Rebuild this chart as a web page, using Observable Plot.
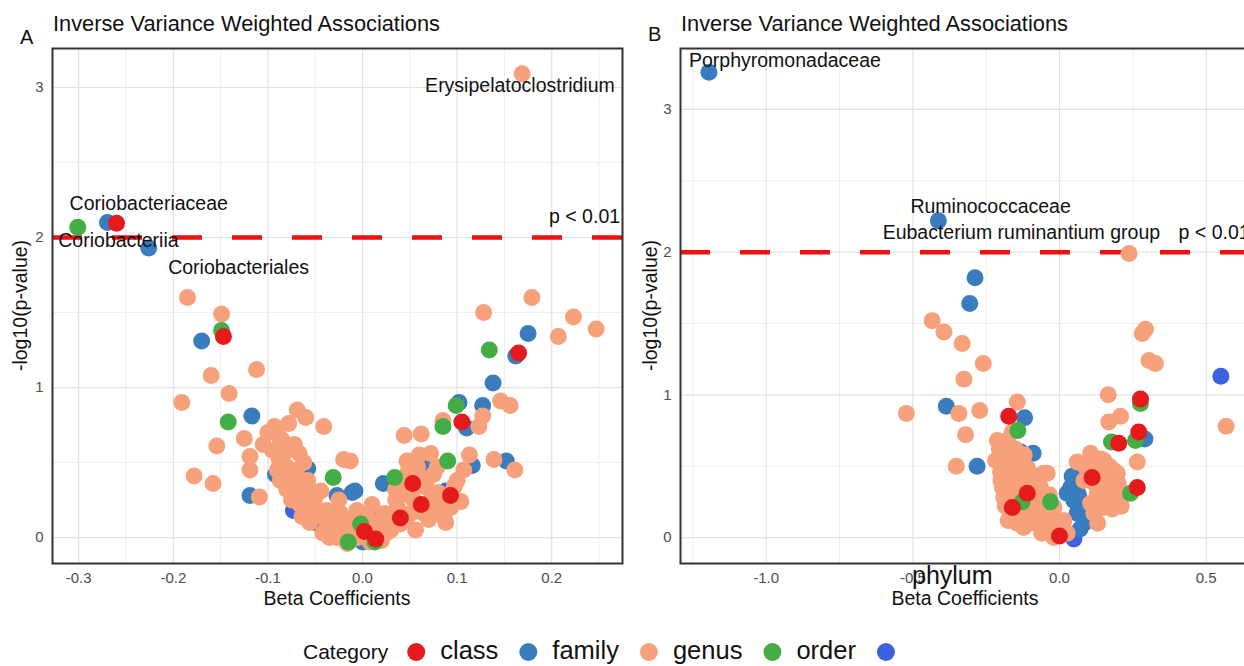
<!DOCTYPE html>
<html><head><meta charset="utf-8">
<script src="https://cdn.jsdelivr.net/npm/d3@7"></script>
<script src="https://cdn.jsdelivr.net/npm/@observablehq/plot@0.6"></script>
<style>
html,body{margin:0;padding:0;background:#fff;overflow:hidden;}
#root{position:relative;width:1244px;height:666px;overflow:hidden;background:#fff;font-family:'Liberation Sans',Arial,sans-serif;}
#root svg{position:absolute;max-width:none;}
</style></head><body><div id="root"></div>
<script>
// ---- categories & legend ----
const categories = ["class","family","genus","order","phylum"];
const palette = ["#e41a1c","#3a7dbf","#f7a07c","#45ad45","#3b62e0"];
const pThreshold = 0.01;
const panelTitle = "Inverse Variance Weighted Associations";
const panelLetters = ["A","B"];
const xTitle = "Beta Coefficients";
const yTitle = "-log10(p-value)";

// ---- panel A data: [beta, -log10 p] ----
const aClass = [[-0.260,2.095],[-0.147,1.34],[0.165,1.23],[0.105,0.77],[0.053,0.36],[0.093,0.28],[0.014,-0.01],[0.040,0.13],[0.062,0.22],[0.002,0.04]];
const aFamily = [[-0.2696,2.10],[-0.226,1.93],[-0.170,1.31],[-0.117,0.81],[-0.119,0.28],[-0.092,0.42],[-0.058,0.46],[-0.041,0.06],[-0.029,0.16],[-0.011,0.30],[-0.027,0.28],[0.000,-0.03],[0.011,0.16],[0.022,0.36],[-0.008,0.31],[0.067,0.51],[0.110,0.73],[0.102,0.90],[0.127,0.88],[0.138,1.03],[0.175,1.36],[0.162,1.21],[0.116,0.48],[0.152,0.51],[-0.050,0.10],[0.030,0.08]];
const aGenus = [[0.1687,3.091],
 [-0.185,1.60],[-0.149,1.49],[-0.160,1.08],[-0.112,1.12],[-0.141,0.96],[-0.191,0.90],
 [-0.069,0.85],[-0.060,0.80],[-0.093,0.74],[-0.078,0.76],[-0.041,0.74],[-0.125,0.66],[-0.154,0.61],[-0.105,0.62],[-0.088,0.67],[-0.119,0.54],[-0.119,0.45],[-0.067,0.56],[-0.020,0.52],[-0.178,0.41],[-0.158,0.36],[-0.109,0.27],
 [-0.085,0.65],[-0.083,0.56],[-0.080,0.47],[-0.074,0.38],[-0.071,0.29],[-0.066,0.22],[-0.058,0.18],[-0.051,0.25],[-0.044,0.31],[-0.048,0.16],[-0.037,0.11],[-0.030,0.07],[-0.023,0.16],[-0.016,0.11],[-0.009,0.02],[-0.002,0.07],[0.005,0.16],[-0.027,0.00],[-0.016,-0.04],
 [-0.088,0.52],[-0.078,0.42],[-0.068,0.34],[-0.060,0.28],[-0.052,0.20],[-0.045,0.14],[-0.038,0.18],[-0.030,0.12],[-0.022,0.06],[-0.012,0.04],[-0.006,0.15],[0.004,0.10],[-0.058,0.38],[-0.070,0.45],[-0.048,0.30],[-0.025,0.25],
 [-0.095,0.58],[-0.090,0.45],[-0.087,0.38],[-0.080,0.32],[-0.075,0.25],[-0.064,0.14],[-0.056,0.10],[-0.042,0.03],[-0.035,0.00],[-0.013,-0.02],[-0.005,0.00],[0.008,-0.03],[0.020,-0.02],[-0.100,0.70],[-0.072,0.62],[-0.062,0.50],
 [0.179,1.60],[0.128,1.50],[0.223,1.47],[0.247,1.39],[0.207,1.34],[0.146,0.91],[0.156,0.88],[0.127,0.81],[0.085,0.78],[0.123,0.74],[0.044,0.68],[0.062,0.69],[0.139,0.52],[0.161,0.45],[0.113,0.55],[0.047,0.51],
 [-0.006,0.18],[0.008,0.11],[0.023,0.16],[0.037,0.20],[0.044,0.29],[0.051,0.38],[0.058,0.47],[0.065,0.34],[0.072,0.25],[0.079,0.18],[0.086,0.14],[0.093,0.29],[0.100,0.38],[0.107,0.45],[0.051,0.16],[0.030,0.05],[0.016,0.00],[0.001,0.02],[0.040,0.09],[0.065,0.16],[0.079,0.47],[0.068,0.38],[0.054,0.25],[0.093,0.20],[-0.013,0.51],
 [0.010,0.22],[0.015,0.08],[0.028,0.14],[0.035,0.25],[0.045,0.12],[0.058,0.22],[0.062,0.40],[0.070,0.12],[0.080,0.30],[0.088,0.10],[0.042,0.37],[0.056,0.05],
 [0.025,0.03],[0.035,0.32],[0.048,0.44],[0.055,0.33],[0.075,0.42],[0.082,0.22],[0.097,0.34],[0.104,0.24],[0.060,0.55],[0.072,0.56]];
const aOrder = [[-0.301,2.069],[-0.149,1.38],[-0.142,0.77],[0.134,1.25],[0.099,0.88],[0.085,0.74],[0.090,0.51],[0.034,0.40],[-0.015,-0.03],[0.013,-0.03],[-0.002,0.09],[-0.031,0.40]];
const aPhylum = [[-0.065,0.32],[-0.073,0.18],[0.070,0.46],[0.088,0.31]];
const aLabels = ["Erysipelatoclostridium","Coriobacteriaceae","Coriobacteriia","Coriobacteriales","p < 0.01"];
const aLabelX = [0.1664,-0.226,-0.258,-0.131,0.2347];
const aLabelY = [3.013,2.222,1.98,1.80,2.14];
const aXTicks = [-0.3,-0.2,-0.1,0.0,0.1,0.2];
const aXMinor = [-0.25,-0.15,-0.05,0.05,0.15,0.25];
const aXDomain = [-0.3277,0.2748];
const aYDomain = [-0.173,3.26];

// ---- panel B data ----
const bClass = [[-0.173,0.85],[-0.161,0.21],[-0.110,0.31],[0.000,0.01],[0.111,0.42],[0.276,0.97],[0.270,0.74],[0.202,0.66],[0.265,0.35]];
const bFamily = [[-1.195,3.26],[-0.413,2.22],[-0.288,1.82],[-0.306,1.64],[-0.386,0.92],[-0.281,0.50],[-0.119,0.84],[-0.090,0.59],[0.043,0.43],[0.038,0.35],[0.049,0.26],[0.060,0.17],[0.083,0.10],[0.026,0.31],[0.072,0.21],[0.291,0.69],[0.050,0.38],[0.065,0.30],[0.090,0.22],[0.070,0.06]];
const bGenus = [[0.237,1.99],[-0.434,1.52],[-0.394,1.44],[-0.332,1.36],[-0.260,1.22],[-0.326,1.11],[-0.522,0.87],[-0.343,0.87],[-0.272,0.89],[-0.320,0.72],[-0.352,0.50],[-0.144,0.95],[0.293,1.46],[0.282,1.43],[0.305,1.24],[0.327,1.22],[0.568,0.78],[0.166,1.00],[0.208,0.85],[0.168,0.81],[0.265,0.53],
 [-0.212,0.68],[-0.218,0.54],[-0.201,0.46],[-0.184,0.38],[-0.190,0.28],[-0.167,0.17],[-0.144,0.10],[-0.133,0.40],[-0.110,0.49],[-0.088,0.42],[-0.065,0.35],[-0.042,0.45],[-0.076,0.21],[-0.099,0.17],[-0.054,0.12],[-0.031,0.05],[-0.122,0.07],[-0.093,0.28],[-0.156,0.54],[-0.178,0.68],[-0.161,0.74],
 [-0.205,0.62],[-0.190,0.52],[-0.175,0.45],[-0.160,0.35],[-0.125,0.32],[-0.105,0.35],[-0.080,0.30],[-0.070,0.14],[-0.045,0.18],[-0.035,0.30],[-0.020,0.00],[-0.110,0.10],[-0.130,0.18],[-0.185,0.22],[-0.175,0.12],[-0.150,0.62],[-0.120,0.58],[-0.150,0.45],
 [-0.200,0.40],[-0.195,0.35],[-0.170,0.30],[-0.140,0.22],[-0.115,0.28],[-0.085,0.10],[-0.060,0.03],[-0.100,0.45],[-0.070,0.40],[-0.050,0.30],[-0.025,0.12],[-0.160,0.60],
 [0.060,0.53],[0.106,0.59],[0.151,0.54],[0.185,0.47],[0.083,0.40],[0.129,0.31],[0.174,0.35],[0.208,0.31],[0.106,0.24],[0.151,0.21],[0.015,0.12],[-0.019,0.21],[-0.053,0.17],[-0.042,0.05],[0.026,0.03],[0.197,0.45],[0.162,0.26],[0.117,0.17],[-0.054,0.45],
 [0.130,0.45],[0.090,0.50],[0.140,0.55],[0.120,0.38],[0.005,0.06],[0.130,0.10],[0.180,0.20],[0.200,0.38],[0.150,0.40],
 [0.160,0.32],[0.190,0.40],[0.170,0.50],[0.120,0.50],[0.210,0.22],[0.140,0.22]];
const bOrder = [[-0.142,0.75],[-0.127,0.25],[-0.031,0.25],[0.177,0.67],[0.259,0.68],[0.242,0.31],[0.276,0.94]];
const bPhylum = [[0.550,1.13],[-0.133,0.60],[-0.140,0.31],[0.083,0.17],[0.049,-0.01]];
const bLabels = ["Porphyromonadaceae","Ruminococcaceae","Eubacterium ruminantium group","p < 0.01"];
const bLabelX = [-0.936,-0.235,-0.130,0.527];
const bLabelY = [3.343,2.319,2.137,2.137];
const bXTicks = [-1.0,-0.5,0.0,0.5];
const bXMinor = [-1.25,-0.75,-0.25,0.25];
const bXDomain = [-1.292,0.651];
const bYDomain = [-0.182,3.427];

const yTicks = [0,1,2,3];
const yMinor = [0.5,1.5,2.5];

// ---- build ----
const FONT = "'Liberation Sans', Arial, sans-serif";
const drawOrder = ["phylum","family","genus","order","class"];
function rowsOf(sets){ return drawOrder.flatMap(c => sets[c].map(([x,y]) => ({x, y, category: c}))); }
function labelRows(labels, xs, ys){ return labels.map((label,i) => ({label, x: xs[i], y: ys[i]})); }

function panel(rows, labels, xTicks, xMinor, xDomain, yDomain){
  return Plot.plot({
    width: 640, height: 580,
    marginLeft: 52, marginRight: 18, marginTop: 8, marginBottom: 57,
    x: {domain: xDomain}, y: {domain: yDomain},
    color: {domain: categories, range: palette},
    style: {fontFamily: FONT, fontSize: "15px", background: "none", overflow: "visible"},
    marks: [
      Plot.ruleX(xMinor, {stroke: "#efefef", strokeWidth: 1}),
      Plot.ruleY(yMinor, {stroke: "#efefef", strokeWidth: 1}),
      Plot.ruleX(xTicks, {stroke: "#e2e2e2", strokeWidth: 1.2}),
      Plot.ruleY(yTicks, {stroke: "#e2e2e2", strokeWidth: 1.2}),
      Plot.ruleY([-Math.log10(pThreshold)], {stroke: "#ee1111", strokeWidth: 4.5, strokeDasharray: "30,30"}),
      Plot.dot(rows, {x: "x", y: "y", fill: "category", r: 8.5}),
      Plot.text(labels, {x: "x", y: "y", text: "label", fontSize: 19.5, fill: "#111", textAnchor: "middle", lineAnchor: "middle"}),
      Plot.axisX({ticks: xTicks, tickSize: 0, tickPadding: 9, tickFormat: d => d.toFixed(1), label: null, fill: "#4d4d4d"}),
      Plot.axisY({ticks: yTicks, tickSize: 0, tickPadding: 9, tickFormat: d => String(d), label: null, fill: "#4d4d4d"}),
      Plot.frame({stroke: "#333", strokeWidth: 2})
    ]
  });
}

const root = document.getElementById("root");
const rowsA = rowsOf({class: aClass, family: aFamily, genus: aGenus, order: aOrder, phylum: aPhylum});
const rowsB = rowsOf({class: bClass, family: bFamily, genus: bGenus, order: bOrder, phylum: bPhylum});
const plotA = panel(rowsA, labelRows(aLabels, aLabelX, aLabelY), aXTicks, aXMinor, aXDomain, aYDomain);
const plotB = panel(rowsB, labelRows(bLabels, bLabelX, bLabelY), bXTicks, bXMinor, bXDomain, bYDomain);
plotA.style.left = "0px"; plotA.style.top = "40px";
plotB.style.left = "628px"; plotB.style.top = "40px";
root.appendChild(plotA); root.appendChild(plotB);

// ---- overlay: titles, axis titles, legend ----
const ov = d3.select(root).append("svg")
  .attr("width", 1244).attr("height", 666)
  .style("left", "0px").style("top", "0px")
  .style("pointer-events", "none")
  .attr("font-family", FONT);

function txt(x, y, s, size, anchor){
  return ov.append("text").attr("x", x).attr("y", y).attr("font-size", size)
    .attr("text-anchor", anchor || "start").attr("fill", "#111").text(s);
}
const panelOffsets = [0, 628];
const letterBase = [44, 41];
panelOffsets.forEach((off, i) => {
  txt(off + 20, letterBase[i], panelLetters[i], 20);
  txt(off + 53, 31, panelTitle, 21.8);
  txt(off + 337, 605, xTitle, 19.5, "middle");
  ov.append("text").attr("transform", `translate(${off + (i ? 29 : 27)},305.5) rotate(-90)`)
    .attr("text-anchor", "middle").attr("font-size", 19.5).attr("fill", "#111").text(yTitle);
});

// legend
let lx = 303;
const legTitle = txt(lx, 659, "Category", 21);
lx += legTitle.node().getComputedTextLength() + 19;
categories.forEach((c, i) => {
  ov.append("circle").attr("cx", lx + 9).attr("cy", 652).attr("r", 9).attr("fill", palette[i]);
  lx += 18 + 15;
  if (i < categories.length - 1) {
    const t = txt(lx, 659, c, 25.5);
    lx += t.node().getComputedTextLength() + 21;
  }
});
// the last legend label sits displaced over panel B's axis
txt(912, 584, categories[categories.length - 1], 25);
</script>
</body></html>
